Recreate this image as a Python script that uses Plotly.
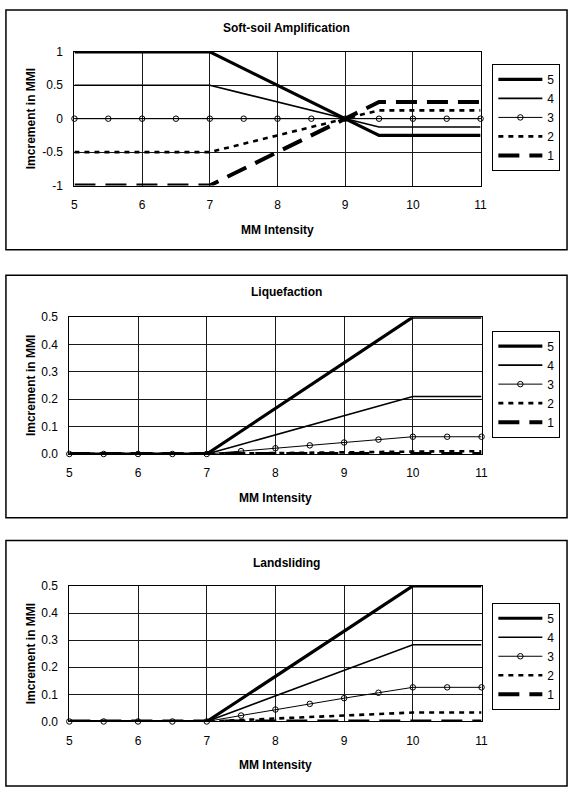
import plotly.graph_objects as go

# ---------------- data ----------------
mmi = [5, 5.5, 6, 6.5, 7, 7.5, 8, 8.5, 9, 9.5, 10, 10.5, 11]
series_names = ["5", "4", "3", "2", "1"]

soft_5 = [1, 1, 1, 1, 1, 0.75, 0.5, 0.25, 0, -0.25, -0.25, -0.25, -0.25]
soft_4 = [0.5, 0.5, 0.5, 0.5, 0.5, 0.375, 0.25, 0.125, 0, -0.125, -0.125, -0.125, -0.125]
soft_3 = [0, 0, 0, 0, 0, 0, 0, 0, 0, 0, 0, 0, 0]
soft_2 = [-0.5, -0.5, -0.5, -0.5, -0.5, -0.375, -0.25, -0.125, 0, 0.125, 0.125, 0.125, 0.125]
soft_1 = [-1, -1, -1, -1, -1, -0.75, -0.5, -0.25, 0, 0.25, 0.25, 0.25, 0.25]

liq_5 = [0, 0, 0, 0, 0, 0.083, 0.167, 0.25, 0.333, 0.417, 0.5, 0.5, 0.5]
liq_4 = [0, 0, 0, 0, 0, 0.035, 0.07, 0.105, 0.14, 0.175, 0.21, 0.21, 0.21]
liq_3 = [0, 0, 0, 0, 0, 0.0105, 0.021, 0.0315, 0.042, 0.0525, 0.063, 0.063, 0.063]
liq_2 = [0, 0, 0, 0, 0, 0.0017, 0.0033, 0.005, 0.0067, 0.0083, 0.01, 0.01, 0.01]
liq_1 = [0, 0, 0, 0, 0, 0, 0, 0, 0, 0, 0, 0, 0]

land_5 = [0, 0, 0, 0, 0, 0.083, 0.167, 0.25, 0.333, 0.417, 0.5, 0.5, 0.5]
land_4 = [0, 0, 0, 0, 0, 0.047, 0.094, 0.142, 0.189, 0.236, 0.283, 0.283, 0.283]
land_3 = [0, 0, 0, 0, 0, 0.022, 0.044, 0.065, 0.086, 0.106, 0.126, 0.126, 0.126]
land_2 = [0, 0, 0, 0, 0, 0.0055, 0.011, 0.0165, 0.022, 0.0275, 0.033, 0.033, 0.033]
land_1 = [0, 0, 0, 0, 0, 0, 0, 0, 0, 0, 0, 0, 0]

panel_titles = ["Soft-soil Amplification", "Liquefaction", "Landsliding"]
x_title = "MM Intensity"
y_title = "Imcrement in MMI"

x_ticks = [5, 6, 7, 8, 9, 10, 11]
soft_yticks = [1, 0.5, 0, -0.5, -1]
soft_yticktext = ["1", "0.5", "0", "-0.5", "-1"]
haz_yticks = [0.0, 0.1, 0.2, 0.3, 0.4, 0.5]
haz_yticktext = ["0.0", "0.1", "0.2", "0.3", "0.4", "0.5"]

panels = [
    [soft_5, soft_4, soft_3, soft_2, soft_1],
    [liq_5, liq_4, liq_3, liq_2, liq_1],
    [land_5, land_4, land_3, land_2, land_1],
]

# ---------------- styles ----------------
W, H = 576, 795
FONT = "Liberation Sans, Arial, sans-serif"
FS = 12

def px(x):
    return x / W

def py(y):
    return 1 - y / H

styles = [
    dict(line=dict(color="black", width=3.2), mode="lines"),
    dict(line=dict(color="black", width=1.6), mode="lines"),
    dict(line=dict(color="black", width=1), mode="lines+markers",
         marker=dict(symbol="circle-open", size=5.5, color="black", line=dict(width=1))),
    dict(line=dict(color="black", width=2.6, dash="5px,5px"), mode="lines"),
    dict(line=dict(color="black", width=4, dash="21px,10px"), mode="lines"),
]

# plot-area boxes in pixels: (left, right, top, bottom)
plot_px = [(72.7, 486, 45.7, 181.7), (67.5, 487, 315.7, 455), (67.5, 487, 589.3, 727.3)]
border_px = [(3, 574, 3, 247), (3, 574, 273, 520), (3, 574, 543, 793)]
title_y = [21, 290, 566]
xtitle_y = [227, 500, 772]
legend_cy = [112.4, 383.9, 660.9]

fig = go.Figure()
legend_keys = ["legend", "legend2", "legend3"]

for p, data in enumerate(panels):
    xa = "x" if p == 0 else f"x{p+1}"
    ya = "y" if p == 0 else f"y{p+1}"
    for name, vals, st in zip(series_names, data, styles):
        fig.add_trace(go.Scatter(
            x=mmi, y=vals, name=name, xaxis=xa, yaxis=ya,
            legend=legend_keys[p], cliponaxis=False, **st))

axis_common = dict(showline=True, linecolor="black", linewidth=1, mirror=True,
                   showgrid=True, gridcolor="#1a1a1a", gridwidth=1,
                   zeroline=False, ticks="",
                   tickfont=dict(family=FONT, size=FS, color="black"))

layout_axes = {}
for p in range(3):
    l, r, t, b = plot_px[p]
    xk = "xaxis" if p == 0 else f"xaxis{p+1}"
    yk = "yaxis" if p == 0 else f"yaxis{p+1}"
    layout_axes[xk] = dict(domain=[px(l), px(r)], range=[5, 11], tickvals=x_ticks,
                           anchor="y" if p == 0 else f"y{p+1}",
                           ticklabelstandoff=8, **axis_common)
    if p == 0:
        yd = dict(range=[-1, 1], tickvals=soft_yticks, ticktext=soft_yticktext)
    else:
        yd = dict(range=[0, 0.5], tickvals=haz_yticks, ticktext=haz_yticktext)
    layout_axes[yk] = dict(domain=[py(b), py(t)], anchor="x" if p == 0 else f"x{p+1}",
                           ticklabelstandoff=8, **yd, **axis_common)

fig.update_layout(**layout_axes)

shapes = []
annotations = []
for p in range(3):
    l, r, t, b = border_px[p]
    shapes.append(dict(type="rect", xref="paper", yref="paper",
                       x0=px(l), x1=px(r), y0=py(b), y1=py(t),
                       line=dict(color="black", width=1.5), layer="below"))
    pl, pr, pt, pb = plot_px[p]
    annotations.append(dict(text=f"<b>{panel_titles[p]}</b>", xref="paper", yref="paper",
                            x=px(289), y=py(title_y[p]), showarrow=False,
                            xanchor="center", yanchor="middle",
                            font=dict(family=FONT, size=FS, color="black")))
    annotations.append(dict(text=f"<b>{x_title}</b>", xref="paper", yref="paper",
                            x=px((pl + pr) / 2), y=py(xtitle_y[p]), showarrow=False,
                            xanchor="center", yanchor="middle",
                            font=dict(family=FONT, size=FS, color="black")))
    annotations.append(dict(text=f"<b>{y_title}</b>", xref="paper", yref="paper",
                            x=px(28), y=py((pt + pb) / 2), showarrow=False,
                            textangle=-90, xanchor="center", yanchor="middle",
                            font=dict(family=FONT, size=FS, color="black")))

legend_common = dict(bgcolor="white", bordercolor="black", borderwidth=1,
                     font=dict(family=FONT, size=FS, color="black"),
                     xanchor="left", yanchor="middle", x=px(498),
                     tracegroupgap=0, itemwidth=44)

fig.update_layout(
    width=W, height=H, autosize=False,
    margin=dict(l=0, r=0, t=0, b=0),
    paper_bgcolor="white", plot_bgcolor="white",
    showlegend=True,
    legend=dict(y=py(legend_cy[0]), **legend_common),
    legend2=dict(y=py(legend_cy[1]), **legend_common),
    legend3=dict(y=py(legend_cy[2]), **legend_common),
    shapes=shapes, annotations=annotations,
    font=dict(family=FONT, size=FS, color="black"),
)

fig.write_html("out.html",
               config={"displayModeBar": False},
               post_script="document.body.style.margin='0px';document.body.style.padding='0px';")
